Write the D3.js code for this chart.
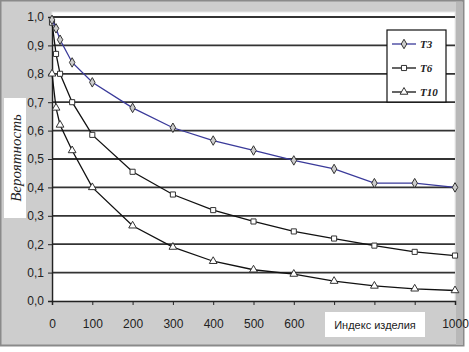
<!DOCTYPE html>
<html lang="ru">
<head>
<meta charset="utf-8">
<title>Вероятность</title>
<script src="https://d3js.org/d3.v7.min.js"></script>
<style>
  body { margin: 0; background: #fff; }
  text { font-family: "Liberation Sans Narrow", "Liberation Sans", Arial, sans-serif; }
</style>
</head>
<body>
<svg id="chart" width="469" height="352"></svg>
<script>
var xIdx = [0, 10, 20, 50, 100, 200, 300, 400, 500, 600, 700, 800, 900, 1000];
var t3 = [0.99, 0.96, 0.92, 0.84, 0.77, 0.68, 0.61, 0.565, 0.53, 0.495, 0.465, 0.415, 0.415, 0.40];
var t6 = [0.98, 0.87, 0.80, 0.70, 0.585, 0.455, 0.375, 0.32, 0.28, 0.245, 0.22, 0.195, 0.173, 0.16];
var t10 = [0.80, 0.68, 0.62, 0.53, 0.40, 0.265, 0.19, 0.14, 0.11, 0.095, 0.07, 0.053, 0.043, 0.037];
var yTicks = [0, 0.1, 0.2, 0.3, 0.4, 0.5, 0.6, 0.7, 0.8, 0.9, 1.0];
var xTicks = [0, 100, 200, 300, 400, 500, 600, 700, 800, 900, 1000];
var xLabels = ["0", "100", "200", "300", "400", "500", "600", "", "", "", "1000"];
var seriesNames = ["T3", "T6", "T10"];

var svg = d3.select("#chart");

// outer frame
svg.append("rect").attr("x", 0.5).attr("y", 0.5).attr("width", 463).attr("height", 345)
  .attr("fill", "#cdcdcd").attr("stroke", "#8a8a8a").attr("stroke-width", 2);
svg.append("rect").attr("x", 456).attr("y", 2).attr("width", 7).attr("height", 343).attr("fill", "#b8b8b8");

var pLeft = 52, pRight = 455, pTop = 17, pBottom = 301;
var x = d3.scaleLinear().domain([0, 1000]).range([pLeft, pRight]);
var y = d3.scaleLinear().domain([0, 1]).range([pBottom, pTop]);

// plot area
svg.append("rect").attr("x", pLeft).attr("y", 12).attr("width", pRight - pLeft).attr("height", pBottom - 12)
  .attr("fill", "#fff").attr("stroke", "#e8e8e8");

// gridlines
svg.append("g").selectAll("line").data(yTicks.slice(1)).enter().append("line")
  .attr("x1", pLeft).attr("x2", pRight)
  .attr("y1", function(d) { return y(d); }).attr("y2", function(d) { return y(d); })
  .attr("stroke", "#333").attr("stroke-width", 1.8);

// axes
var yAxis = svg.append("g").attr("transform", "translate(" + pLeft + ",0)")
  .call(d3.axisLeft(y).tickValues(yTicks).tickSize(4).tickPadding(4)
    .tickFormat(function(d) { return d3.format(".1f")(d).replace(".", ","); }));
var xAxis = svg.append("g").attr("transform", "translate(0," + pBottom + ")")
  .call(d3.axisBottom(x).tickValues(xTicks).tickSize(4).tickPadding(14)
    .tickFormat(function(d, i) { return xLabels[i]; }));
[yAxis, xAxis].forEach(function(a) {
  a.select(".domain").attr("stroke", "#222").attr("stroke-width", 1.5);
  a.selectAll(".tick line").attr("stroke", "#222");
  a.selectAll("text").attr("fill", "#222").style("font-size", "12px")
    .style("font-family", "'Liberation Sans Narrow', 'Liberation Sans', Arial, sans-serif");
});

// lines and markers
var line = d3.line()
  .x(function(d, i) { return x(xIdx[i]); })
  .y(function(d) { return y(d); });

function drawSeries(vals, color, shape, fill) {
  var g = svg.append("g");
  g.append("path").datum(vals).attr("d", line)
    .attr("fill", "none").attr("stroke", color).attr("stroke-width", 1.3);
  g.selectAll("path.m").data(vals).enter().append("path").attr("class", "m")
    .attr("d", d3.symbol().type(shape).size(26))
    .attr("transform", function(d, i) { return "translate(" + x(xIdx[i]) + "," + y(d) + ")"; })
    .attr("fill", fill).attr("stroke", "#333").attr("stroke-width", 1);
}
drawSeries(t10, "#111", d3.symbolTriangle, "#fff");
drawSeries(t6, "#111", d3.symbolSquare, "#fff");
drawSeries(t3, "#3a3a9a", d3.symbolDiamond, "#ccc");

// legend
var lg = svg.append("g");
lg.append("rect").attr("x", 387).attr("y", 30).attr("width", 59).attr("height", 72)
  .attr("fill", "#fff").attr("stroke", "#111").attr("stroke-width", 1.2);
var legColors = ["#3a3a9a", "#111", "#111"];
var legShapes = [d3.symbolDiamond, d3.symbolSquare, d3.symbolTriangle];
var legFills = ["#ccc", "#fff", "#fff"];
seriesNames.forEach(function(n, i) {
  var ly = 44 + i * 24;
  lg.append("line").attr("x1", 392).attr("x2", 416).attr("y1", ly).attr("y2", ly)
    .attr("stroke", legColors[i]).attr("stroke-width", 1.3);
  lg.append("path").attr("d", d3.symbol().type(legShapes[i]).size(26))
    .attr("transform", "translate(404," + ly + ")")
    .attr("fill", legFills[i]).attr("stroke", "#333");
  lg.append("text").attr("x", 420).attr("y", ly + 4).text(n)
    .style("font-family", "'Liberation Serif', 'Times New Roman', serif")
    .style("font-style", "italic").style("font-weight", "bold").style("font-size", "11px")
    .attr("fill", "#222");
});

// axis titles
svg.append("rect").attr("x", 4).attr("y", 98).attr("width", 22).attr("height", 120).attr("fill", "#fff");
svg.append("text").attr("transform", "translate(21,158) rotate(-90)")
  .attr("text-anchor", "middle")
  .style("font-family", "'Liberation Serif', 'Times New Roman', serif")
  .style("font-style", "italic").style("font-size", "15px").attr("fill", "#222")
  .text("Вероятность");

svg.append("rect").attr("x", 325).attr("y", 312).attr("width", 100).attr("height", 25).attr("fill", "#fff");
svg.append("text").attr("x", 375).attr("y", 329).attr("text-anchor", "middle")
  .style("font-size", "11px").attr("fill", "#222")
  .text("Индекс изделия");
</script>
</body>
</html>
